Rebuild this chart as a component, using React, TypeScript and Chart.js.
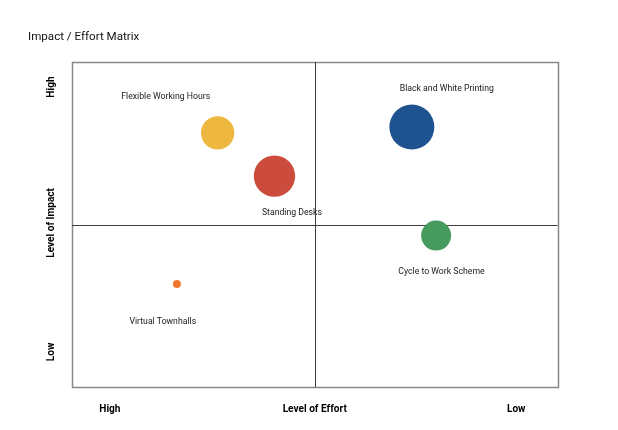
import React, { useEffect, useRef } from "react";
import { Chart, registerables } from "chart.js";

Chart.register(...registerables);

const chartTitle = "Impact / Effort Matrix";
const categories = [
  "Flexible Working Hours",
  "Standing Desks",
  "Black and White Printing",
  "Cycle to Work Scheme",
  "Virtual Townhalls",
];
const effortValues = [3.0, 4.17, 7.0, 7.5, 2.16];
const impactValues = [7.82, 6.49, 8.0, 4.66, 3.17];
const bubbleSizes = [16.7, 20.7, 22.5, 15, 4];
const labelEffort = [1.93, 4.53, 7.72, 7.61, 1.87];
const labelImpact = [8.98, 5.42, 9.21, 3.58, 2.06];
const bubbleColors = ["#EEB73F", "#CB4B3C", "#1E5390", "#479A5D", "#F0782F"];
const xTickValues = [0.78, 5, 9.15];
const xTickLabels = ["High", "Level of Effort", "Low"];
const yTickValues = [1.08, 5.05, 9.23];
const yTickLabels = ["Low", "Level of Impact", "High"];

const FONT = "Roboto, 'Noto Sans', sans-serif";

const matrixPlugin = {
  id: "matrixPlugin",
  beforeDatasetsDraw(chart: any) {
    const { ctx, chartArea, scales } = chart;
    const { left, top, right, bottom } = chartArea;
    const mx = Math.round(scales.x.getPixelForValue(5)) + 0.5;
    const my = Math.round(scales.y.getPixelForValue(5)) + 0.5;
    ctx.save();
    ctx.strokeStyle = "#888";
    ctx.lineWidth = 1.5;
    ctx.strokeRect(Math.round(left) + 0.5, Math.round(top) + 0.5, Math.round(right - left), Math.round(bottom - top));
    ctx.strokeStyle = "#3c3c3c";
    ctx.lineWidth = 1;
    ctx.beginPath();
    ctx.moveTo(mx, top);
    ctx.lineTo(mx, bottom);
    ctx.moveTo(left, my);
    ctx.lineTo(right, my);
    ctx.stroke();
    ctx.restore();
  },
  afterDatasetsDraw(chart: any) {
    const { ctx, chartArea, scales } = chart;
    ctx.save();
    ctx.fillStyle = "#1a1a1a";
    ctx.font = `8.7px ${FONT}`;
    ctx.textAlign = "center";
    ctx.textBaseline = "middle";
    categories.forEach((c, i) => {
      ctx.fillText(c, scales.x.getPixelForValue(labelEffort[i]), scales.y.getPixelForValue(labelImpact[i]) + 1.5);
    });
    ctx.fillStyle = "#000";
    ctx.font = `bold 10.1px ${FONT}`;
    const ax = chartArea.left - 20.5;
    yTickLabels.forEach((t, i) => {
      ctx.save();
      ctx.translate(ax, scales.y.getPixelForValue(yTickValues[i]));
      ctx.rotate(-Math.PI / 2);
      ctx.fillText(t, 0, 0);
      ctx.restore();
    });
    ctx.restore();
  },
};

export default function App() {
  const ref = useRef<HTMLCanvasElement>(null);
  useEffect(() => {
    if (!ref.current) return;
    const chart = new Chart(ref.current, {
      type: "bubble",
      data: {
        datasets: [
          {
            label: "Ideas",
            data: categories.map((_, i) => ({ x: effortValues[i], y: impactValues[i], r: bubbleSizes[i] })),
            backgroundColor: bubbleColors,
            borderWidth: 0,
          },
        ],
      },
      options: {
        animation: false,
        responsive: false,
        layout: { padding: { left: 28, right: 60.5, top: 20, bottom: 0 } },
        plugins: {
          legend: { display: false },
          tooltip: { enabled: false },
          title: {
            display: true,
            text: chartTitle,
            align: "start",
            color: "#111",
            font: { family: FONT, size: 11.6, weight: "normal" },
            padding: { top: 10, bottom: 18.1 },
          },
        },
        scales: {
          x: {
            type: "linear",
            min: 0,
            max: 10,
            grid: { display: false, drawTicks: false },
            border: { display: false },
            afterBuildTicks: (scale: any) => {
              scale.ticks = xTickValues.map((v) => ({ value: v }));
            },
            afterFit: (scale: any) => {
              scale.height = 43;
            },
            ticks: {
              autoSkip: false,
              maxRotation: 0,
              minRotation: 0,
              padding: 16.5,
              color: "#000",
              font: { family: FONT, size: 10.1, weight: "bold" },
              callback: (_v: any, i: number) => xTickLabels[i],
            },
          },
          y: {
            type: "linear",
            min: 0,
            max: 10,
            grid: { display: false, drawTicks: false },
            border: { display: false },
            ticks: { display: false },
            afterFit: (scale: any) => {
              scale.width = 44;
            },
          },
        },
      },
      plugins: [matrixPlugin],
    });
    return () => chart.destroy();
  }, []);
  return (
    <div style={{ position: "fixed", left: 0, top: 0, width: 618, height: 430, background: "#fff" }}>
      <canvas ref={ref} width={618} height={430} style={{ display: "block" }} />
    </div>
  );
}
